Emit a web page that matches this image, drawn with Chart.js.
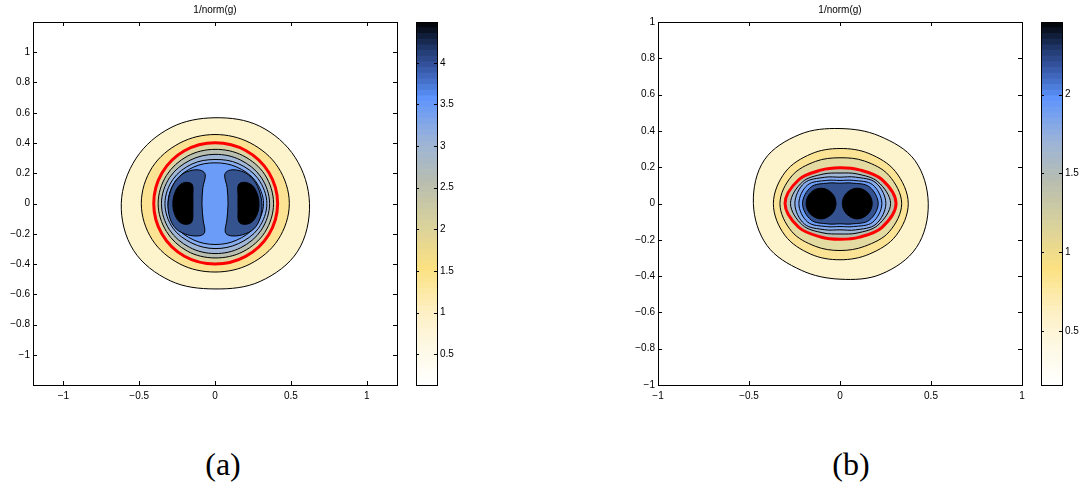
<!DOCTYPE html>
<html lang="en">
<head>
<meta charset="UTF-8">
<title>1/norm(g)</title>
<script src="https://cdn.jsdelivr.net/npm/chart.js"></script>
<style>
  body { margin: 0; background: #fff; width: 1083px; height: 492px; position: relative; overflow: hidden; }
  canvas { position: absolute; top: 0; }
  .lbl { position: absolute; top: 448px; width: 100px; text-align: center; font-family: "Liberation Serif", serif; font-size: 32px; line-height: 1; color: #000; }
</style>
</head>
<body>
<canvas id="plotA" style="left:0" width="400" height="415"></canvas>
<canvas id="cbarA" style="left:410px" width="50" height="387"></canvas>
<canvas id="plotB" style="left:620px" width="405" height="415"></canvas>
<canvas id="cbarB" style="left:1035px" width="48" height="387"></canvas>
<div class="lbl" style="left:173px">(a)</div>
<div class="lbl" style="left:801px">(b)</div>
<script>
const anglesDeg = [0, 30, 60, 90, 120, 150, 180, 210, 240, 270, 300, 330];

// ---- panel (a): contour radii, outermost first ----
const ringA1 = [0.623, 0.61, 0.59, 0.567, 0.58, 0.6, 0.618, 0.62, 0.59, 0.565, 0.595, 0.63];
const ringA2 = [0.49, 0.48, 0.463, 0.456, 0.462, 0.478, 0.486, 0.478, 0.462, 0.453, 0.462, 0.48];
const ringA3 = [0.413, 0.41, 0.405, 0.402, 0.403, 0.404, 0.404, 0.404, 0.403, 0.4, 0.404, 0.41]; // red
const ringA4 = [0.386, 0.38, 0.366, 0.358, 0.362, 0.37, 0.375, 0.37, 0.364, 0.36, 0.368, 0.38];
const ringA5 = [0.36, 0.35, 0.333, 0.325, 0.33, 0.345, 0.353, 0.347, 0.335, 0.331, 0.338, 0.352];
const ringA6 = [0.342, 0.328, 0.305, 0.291, 0.302, 0.32, 0.33, 0.322, 0.303, 0.298, 0.307, 0.33];
const ringA7 = [0.32, 0.305, 0.28, 0.269, 0.279, 0.3, 0.31, 0.3, 0.279, 0.271, 0.281, 0.305];
// kidney-shaped lobes and their black cores
const lobeALx = [-0.064, -0.09, -0.15, -0.22, -0.28, -0.309, -0.298, -0.256, -0.18, -0.1, -0.068, -0.078, -0.086, -0.08];
const lobeALy = [0.19, 0.218, 0.22, 0.19, 0.115, 0.005, -0.095, -0.168, -0.207, -0.213, -0.19, -0.11, -0.005, 0.105];
const lobeARx = [0.064, 0.09, 0.15, 0.22, 0.28, 0.309, 0.298, 0.256, 0.18, 0.1, 0.068, 0.078, 0.086, 0.08];
const lobeARy = [0.19, 0.218, 0.22, 0.19, 0.115, 0.005, -0.095, -0.168, -0.207, -0.213, -0.19, -0.11, -0.005, 0.105];
const coreALx = [-0.15, -0.19, -0.235, -0.267, -0.278, -0.268, -0.236, -0.19, -0.152, -0.146, -0.146];
const coreALy = [0.125, 0.14, 0.12, 0.065, 0, -0.065, -0.12, -0.138, -0.12, -0.04, 0.05];
const coreARx = [0.155, 0.195, 0.245, 0.278, 0.29, 0.28, 0.246, 0.195, 0.157, 0.152, 0.152];
const coreARy = [0.125, 0.14, 0.12, 0.065, 0, -0.065, -0.12, -0.138, -0.12, -0.04, 0.05];

// ---- panel (b) ----
const ringB1 = [0.485, 0.475, 0.43, 0.413, 0.44, 0.48, 0.476, 0.463, 0.425, 0.417, 0.45, 0.485];
const ringB2 = [0.375, 0.352, 0.318, 0.303, 0.316, 0.347, 0.366, 0.35, 0.322, 0.31, 0.322, 0.355];
const ringB3 = [0.339, 0.31, 0.27, 0.252, 0.268, 0.305, 0.33, 0.307, 0.272, 0.259, 0.272, 0.312];
const ringB4 = [0.308, 0.265, 0.214, 0.197, 0.212, 0.262, 0.302, 0.262, 0.213, 0.197, 0.214, 0.265]; // red
const ringB5 = [0.278, 0.24, 0.188, 0.168, 0.187, 0.238, 0.272, 0.238, 0.187, 0.168, 0.188, 0.24];
const ringB6 = [0.252, 0.228, 0.168, 0.145, 0.167, 0.226, 0.248, 0.226, 0.167, 0.145, 0.168, 0.228];
const ringB7 = [0.23, 0.207, 0.147, 0.127, 0.147, 0.205, 0.226, 0.205, 0.147, 0.127, 0.147, 0.207];
const ringB8 = [0.21, 0.185, 0.13, 0.112, 0.13, 0.183, 0.206, 0.183, 0.13, 0.112, 0.13, 0.185];
const discB = [0.082, 0.082, 0.083, 0.084, 0.083, 0.082, 0.082, 0.082, 0.083, 0.085, 0.083, 0.082];
const discBcx = [-0.104, 0.095];

// axes and colour bars
const limA = [-1.2, 1.2];
const limB = [-1, 1];
const ticksX = [-1, -0.5, 0, 0.5, 1];
const ticksY = [-1, -0.8, -0.6, -0.4, -0.2, 0, 0.2, 0.4, 0.6, 0.8, 1];
const cbRangeA = [0.13, 4.49];
const cbTicksA = [0.5, 1, 1.5, 2, 2.5, 3, 3.5, 4];
const cbRangeB = [0.157, 2.46];
const cbTicksB = [0.5, 1, 1.5, 2];
const cbSteps = 64;

// colour map (position 0..1 -> colour)
const cmapPos = [0, 0.1, 0.2, 0.32, 0.44, 0.56, 0.67, 0.79, 0.81, 0.87, 0.93, 1];
const cmapCol = ['#ffffff', '#fef9e6', '#fdf0c4', '#fbe181', '#d9d29c', '#b7bdb0', '#9cb4d8', '#5f94fc', '#5184e6', '#3759a8', '#1f3566', '#000000'];

const family = '"Liberation Sans", Arial, sans-serif';
const tickFont = { family: family, size: 10 };

function hexRgb(h) { const n = parseInt(h.slice(1), 16); return [n >> 16 & 255, n >> 8 & 255, n & 255]; }
function cmap(t) {
    let i = 0;
    while (i < cmapPos.length - 2 && t > cmapPos[i + 1]) i++;
    const f = Math.min(1, Math.max(0, (t - cmapPos[i]) / (cmapPos[i + 1] - cmapPos[i])));
    const a = hexRgb(cmapCol[i]), b = hexRgb(cmapCol[i + 1]);
    return 'rgb(' + a.map((v, k) => Math.round(v + (b[k] - v) * f)).join(',') + ')';
}

function polar(radii, cx, cy) {
    return radii.map((r, i) => ({
        x: cx + r * Math.cos(anglesDeg[i] * Math.PI / 180),
        y: cy + r * Math.sin(anglesDeg[i] * Math.PI / 180)
    }));
}
function xy(xs, ys) { return xs.map((x, i) => ({ x: x, y: ys[i] })); }

function contour(points, fillColor, lineColor, width) {
    return {
        data: points, fill: 'shape', backgroundColor: fillColor,
        borderColor: lineColor || '#000', borderWidth: width || 1,
        pointRadius: 0, tension: 0.35
    };
}
// outermost drawn first
function stack(list) {
    list.forEach((d, i) => { d.order = list.length - i; });
    return list;
}

// treat each contour line as a closed loop
const closeLoops = {
    id: 'closeLoops',
    afterDatasetsUpdate(chart) {
        chart.data.datasets.forEach((ds, i) => {
            const line = chart.getDatasetMeta(i).dataset;
            if (line) {
                line._loop = true;
                line._fullLoop = true;
                line._pointsUpdated = false;
                line._segments = undefined;
                line._path = undefined;
            }
        });
    }
};

// box round the plot area with inward tick marks on all sides
const frameTicks = {
    id: 'frameTicks',
    afterDraw(chart, args, opts) {
        const ctx = chart.ctx, a = chart.chartArea, len = opts.len || 4;
        ctx.save();
        ctx.strokeStyle = '#000';
        ctx.lineWidth = 1;
        ctx.strokeRect(a.left + 0.5, a.top + 0.5, a.right - a.left, a.bottom - a.top);
        Object.values(chart.scales).forEach(s => {
            if (!s.options.display) return;
            s.ticks.forEach(t => {
                const p = Math.round(s.getPixelForValue(t.value)) + 0.5;
                ctx.beginPath();
                if (s.isHorizontal()) {
                    ctx.moveTo(p, a.bottom); ctx.lineTo(p, a.bottom - len);
                    ctx.moveTo(p, a.top); ctx.lineTo(p, a.top + len);
                } else {
                    ctx.moveTo(a.left, p); ctx.lineTo(a.left + len, p);
                    ctx.moveTo(a.right, p); ctx.lineTo(a.right - len, p);
                }
                ctx.stroke();
            });
        });
        ctx.restore();
    }
};

const fmt = v => (v < 0 ? '\u2212' + Math.abs(v) : String(v));

function axisOpts(lim, ticks, size, horizontal) {
    return {
        type: 'linear', min: lim[0], max: lim[1],
        afterBuildTicks: s => { s.ticks = ticks.map(v => ({ value: v })); },
        afterFit: s => {
            if (horizontal) { s.height = size; s.paddingLeft = 0; s.paddingRight = 0; }
            else { s.width = size; s.paddingTop = 0; s.paddingBottom = 0; }
        },
        grid: { display: false, drawTicks: false },
        border: { display: false },
        ticks: { font: tickFont, color: '#000', padding: horizontal ? 5 : 3, autoSkip: false, maxRotation: 0, callback: fmt }
    };
}

function plotChart(id, datasets, lim, yWidth) {
    return new Chart(document.getElementById(id), {
        type: 'line',
        data: { datasets: datasets },
        options: {
            responsive: false, animation: false, events: [],
            layout: { padding: { top: 0, right: 3, bottom: 0, left: 0 } },
            plugins: {
                legend: { display: false },
                tooltip: { enabled: false },
                title: { display: true, text: '1/norm(g)', fullSize: false, color: '#000',
                         font: { family: family, size: 10, weight: 'normal' }, padding: { top: 4, bottom: 6 } },
                frameTicks: { len: 4 }
            },
            scales: { x: axisOpts(lim, ticksX, 30, true), y: axisOpts(lim, ticksY, yWidth, false) }
        },
        plugins: [closeLoops, frameTicks]
    });
}

function colorbar(id, range, ticks, axisWidth) {
    const datasets = [];
    const step = (range[1] - range[0]) / cbSteps;
    for (let k = 0; k < cbSteps; k++) {
        const lo = range[0] + k * step;
        datasets.push({
            data: [[lo, lo + step]], backgroundColor: cmap((k + 0.5) / cbSteps),
            borderWidth: 0, barPercentage: 1, categoryPercentage: 1, grouped: false
        });
    }
    const y = axisOpts(range, ticks, axisWidth, false);
    y.position = 'right';
    return new Chart(document.getElementById(id), {
        type: 'bar',
        data: { labels: [''], datasets: datasets },
        options: {
            responsive: false, animation: false, events: [],
            layout: { padding: { top: 22, left: 6, right: 0, bottom: 2 } },
            plugins: { legend: { display: false }, tooltip: { enabled: false }, frameTicks: { len: 3 } },
            scales: { x: { display: false }, y: y }
        },
        plugins: [frameTicks]
    });
}

const dataA = stack([
    contour(polar(ringA1, 0, 0), '#fdf3cc'),
    contour(polar(ringA2, 0, 0), '#fbe393'),
    contour(polar(ringA3, 0, 0), '#ddd6a4', '#ff0000', 3),
    contour(polar(ringA4, 0, 0), '#b8beb0'),
    contour(polar(ringA5, 0, 0), '#a0b6d6'),
    contour(polar(ringA6, 0, 0), '#88adee'),
    contour(polar(ringA7, 0, 0), '#6b9cf7'),
    contour(xy(lobeALx, lobeALy), '#34538f'),
    contour(xy(lobeARx, lobeARy), '#34538f'),
    contour(xy(coreALx, coreALy), '#000000'),
    contour(xy(coreARx, coreARy), '#000000')
]);

const dataB = stack([
    contour(polar(ringB1, 0, 0), '#fdf3cc'),
    contour(polar(ringB2, 0, 0), '#fbe496'),
    contour(polar(ringB3, 0, 0), '#e4dba2'),
    contour(polar(ringB4, 0, 0), '#bac0b0', '#ff0000', 3),
    contour(polar(ringB5, 0, 0), '#a1b7d6'),
    contour(polar(ringB6, 0, 0), '#86acef'),
    contour(polar(ringB7, 0, 0), '#6a9cf8'),
    contour(polar(ringB8, 0, 0), '#34528f'),
    contour(polar(discB, discBcx[0], 0), '#000000'),
    contour(polar(discB, discBcx[1], 0), '#000000')
]);

plotChart('plotA', dataA, limA, 33);
colorbar('cbarA', cbRangeA, cbTicksA, 23);
plotChart('plotB', dataB, limB, 38);
colorbar('cbarB', cbRangeB, cbTicksB, 21);
</script>
</body>
</html>
